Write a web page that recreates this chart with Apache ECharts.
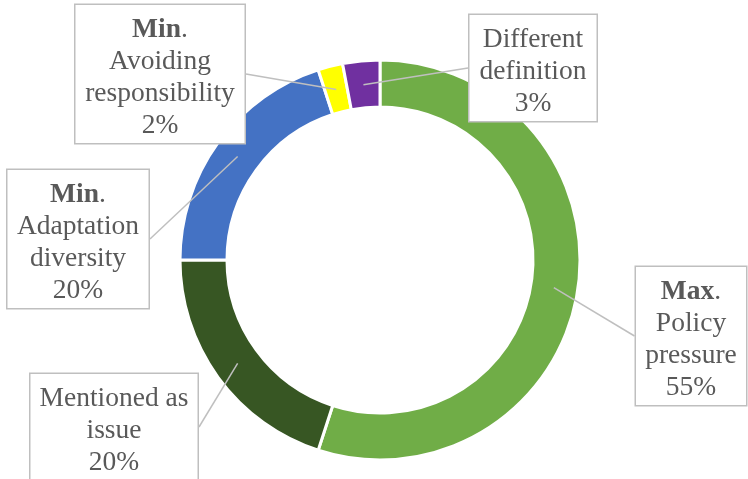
<!DOCTYPE html>
<html>
<head>
<meta charset="utf-8">
<script src="https://cdn.jsdelivr.net/npm/echarts@6/dist/echarts.min.js"></script>
<style>
  html, body { margin: 0; padding: 0; background: #ffffff; }
  #chart { width: 748px; height: 479px; }
</style>
</head>
<body>
<div id="chart"></div>
<script>
// Share of responses per category (percent)
const categories = ['Policy pressure', 'Mentioned as issue', 'Adaptation diversity', 'Avoiding responsibility', 'Different definition'];
const values = [55, 20, 20, 2, 3];
// Wrapped label text for each category, plus the bold Max./Min. marker
const labelRows = [['Policy', 'pressure'], ['Mentioned as', 'issue'], ['Adaptation', 'diversity'], ['Avoiding', 'responsibility'], ['Different', 'definition']];
const labelMarkers = ['Max', '', 'Min', 'Min', ''];

// Styling and callout layout
const sliceColors = ['#70AD47', '#375623', '#4472C4', '#FFFF00', '#7030A0'];
const calloutCenters = [[691, 336], [114, 427], [78, 239], [160, 74], [533, 68]];
const calloutWidths = [110, 167, 141, 169, 127];

const FONT = '"Liberation Serif", "Times New Roman", serif';
const TEXT_COLOR = '#595959';
const CENTER = [380, 260];

const chart = echarts.init(document.getElementById('chart'), null, { renderer: 'canvas' });

const ringData = categories.map((name, i) => ({
  name, value: values[i], itemStyle: { color: sliceColors[i] }
}));

const labelData = categories.map((name, i) => ({
  name, value: values[i], label: { width: calloutWidths[i] }
}));

chart.setOption({
  animation: false,
  backgroundColor: '#ffffff',
  series: [
    {
      // the coloured ring
      type: 'pie',
      center: CENTER,
      radius: [153, 200],
      startAngle: 90,
      clockwise: true,
      silent: true,
      z: 2,
      label: { show: false },
      labelLine: { show: false },
      itemStyle: { borderColor: '#ffffff', borderWidth: 3 },
      emphasis: { disabled: true },
      data: ringData
    },
    {
      // transparent twin that carries the callouts, anchored mid-ring
      type: 'pie',
      center: CENTER,
      radius: [0, 176],
      startAngle: 90,
      clockwise: true,
      silent: true,
      z: 5,
      avoidLabelOverlap: false,
      itemStyle: { color: 'rgba(0,0,0,0)', borderWidth: 0 },
      emphasis: { disabled: true },
      label: {
        show: true,
        position: 'outside',
        backgroundColor: '#ffffff',
        borderColor: '#BFBFBF',
        borderWidth: 1.5,
        padding: [9, 0, 1, 0],
        align: 'center',
        formatter: p => {
          const i = p.dataIndex;
          const rows = [];
          if (labelMarkers[i]) rows.push('{b|' + labelMarkers[i] + '}{t|.}');
          labelRows[i].forEach(s => rows.push('{t|' + s + '}'));
          rows.push('{t|' + p.value + '%}');
          return rows.join('\n');
        },
        rich: {
          t: { fontFamily: FONT, fontSize: 27.5, lineHeight: 32, color: TEXT_COLOR, align: 'center' },
          b: { fontFamily: FONT, fontSize: 27.5, lineHeight: 32, color: TEXT_COLOR, fontWeight: 'bold', align: 'center' }
        }
      },
      labelLine: {
        show: true,
        length: 10,
        length2: 0,
        lineStyle: { color: '#BFBFBF', width: 1.5 }
      },
      labelLayout: params => ({
        x: calloutCenters[params.dataIndex][0],
        y: calloutCenters[params.dataIndex][1],
        align: 'center',
        verticalAlign: 'middle',
        hideOverlap: false,
        moveOverlap: null
      }),
      data: labelData
    }
  ]
});
</script>
</body>
</html>
